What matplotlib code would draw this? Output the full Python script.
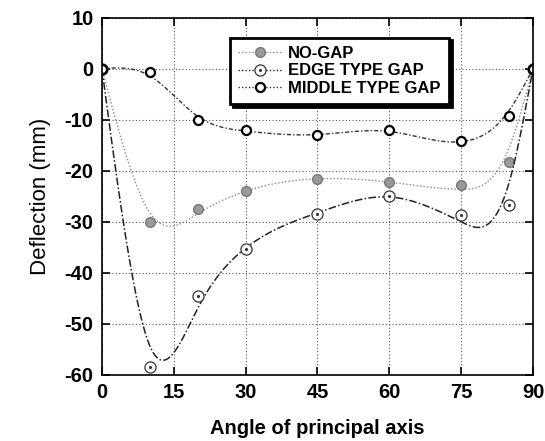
import numpy as np
import matplotlib
matplotlib.use("Agg")
import matplotlib.pyplot as plt
from matplotlib.legend_handler import HandlerTuple

plt.rcParams.update({'font.family': 'Liberation Sans'})
plt.rcParams.update({'axes.linewidth': 1.2})
plt.rcParams.update({'axes.unicode_minus': False})

# data
angle = [0, 10, 20, 30, 45, 60, 75, 85, 90]
no_gap = [0, -30.0, -27.5, -24.0, -21.6, -22.2, -22.8, -18.2, 0]
edge_gap = [0, -58.5, -44.5, -35.3, -28.4, -25.0, -28.6, -26.8, 0]
middle_gap = [0, -0.7, -10.0, -12.0, -13.0, -12.1, -14.2, -9.2, 0]
xticks = [0, 15, 30, 45, 60, 75, 90]
yticks = [-60, -50, -40, -30, -20, -10, 0, 10]


def smooth(x, y, p, h=0.25):
    # penalised least squares on a fine grid (like a smoothing spline)
    grid = np.arange(0, 90 + h / 2, h)
    n = len(grid)
    idx = np.rint(np.asarray(x) / h).astype(int)
    W = np.zeros(n)
    z = np.zeros(n)
    w = np.ones(len(x))
    w[0] = w[-1] = 1e4
    W[idx] = w
    z[idx] = y
    D = np.diff(np.eye(n), 2, axis=0)
    A = np.diag(W) + (p / h**3) * D.T @ D
    return grid, np.linalg.solve(A, W * z)


fig = plt.figure(figsize=(5.45, 4.41), dpi=100)
ax = fig.add_axes([0.187, 0.150, 0.791, 0.810])

gx, gy = smooth(angle, no_gap, 20)
ax.plot(gx, gy, color="#8a8a8a", lw=1.0, ls=(0, (1, 1.5)))
ax.plot(angle, no_gap, ls="none", marker="o", ms=7, mfc="#9a9a9a",
        mec="#777777", mew=1.0)

gx, gy = smooth(angle, edge_gap, 20)
ax.plot(gx, gy, color="#222222", lw=1.1, ls=(0, (5, 1.5, 1, 1.5)))
ax.plot(angle, edge_gap, ls="none", marker="o", ms=8, mfc="white",
        mec="#333333", mew=0.9)
e2, = ax.plot(angle, edge_gap, ls="none", marker=".", ms=2.5, color="#333333")

gx, gy = smooth(angle, middle_gap, 20)
ax.plot(gx, gy, color="#333333", lw=1.0, ls=(0, (3, 1.5, 1, 1.5)))
ax.plot(angle, middle_gap, ls="none", marker="o", ms=6.5, mfc="white",
        mec="black", mew=1.6)

ax.set_xlim(0, 90)
ax.set_ylim(-60, 10)
ax.set_xticks(xticks)
ax.set_yticks(yticks)
ax.grid(True, ls=(0, (1, 2)), color="#555555", lw=0.8)
ax.tick_params(direction="in", length=6, width=1.2, top=True, right=True,
               labelsize=14.5, pad=6)
for t in ax.get_xticklabels() + ax.get_yticklabels():
    t.set_fontweight("bold")

ax.set_xlabel("Angle of principal axis", fontsize=14.5, fontweight="bold",
              labelpad=12)
ax.set_ylabel("Deflection (mm)", fontsize=16, labelpad=10)

h_no, = ax.plot([], [], color="#8a8a8a", lw=1.0, ls=(0, (1, 1.5)),
                marker="o", ms=7, mfc="#9a9a9a", mec="#777777")
h_ed, = ax.plot([], [], color="#222222", lw=1.0, ls=(0, (1, 1.5)),
                marker="o", ms=8, mfc="white", mec="#333333", mew=0.9)
h_mid, = ax.plot([], [], color="#333333", lw=1.0, ls=(0, (1, 1.5)),
                 marker="o", ms=6.5, mfc="white", mec="black", mew=1.6)

leg = ax.legend([h_no, (h_ed, e2), h_mid],
                ["NO-GAP", "EDGE TYPE GAP", "MIDDLE TYPE GAP"],
                handler_map={tuple: HandlerTuple(ndivide=1, pad=0)},
                loc="upper left", bbox_to_anchor=(0.297, 0.944),
                borderaxespad=0, fancybox=False, framealpha=1,
                edgecolor="black", labelspacing=0.15, handlelength=2.6,
                handletextpad=0.4, borderpad=0.5,
                shadow={"color": "black", "alpha": 1},
                prop={"weight": "bold", "size": 12})
leg.get_frame().set_linewidth(2)

plt.savefig("out.png", dpi=100)
